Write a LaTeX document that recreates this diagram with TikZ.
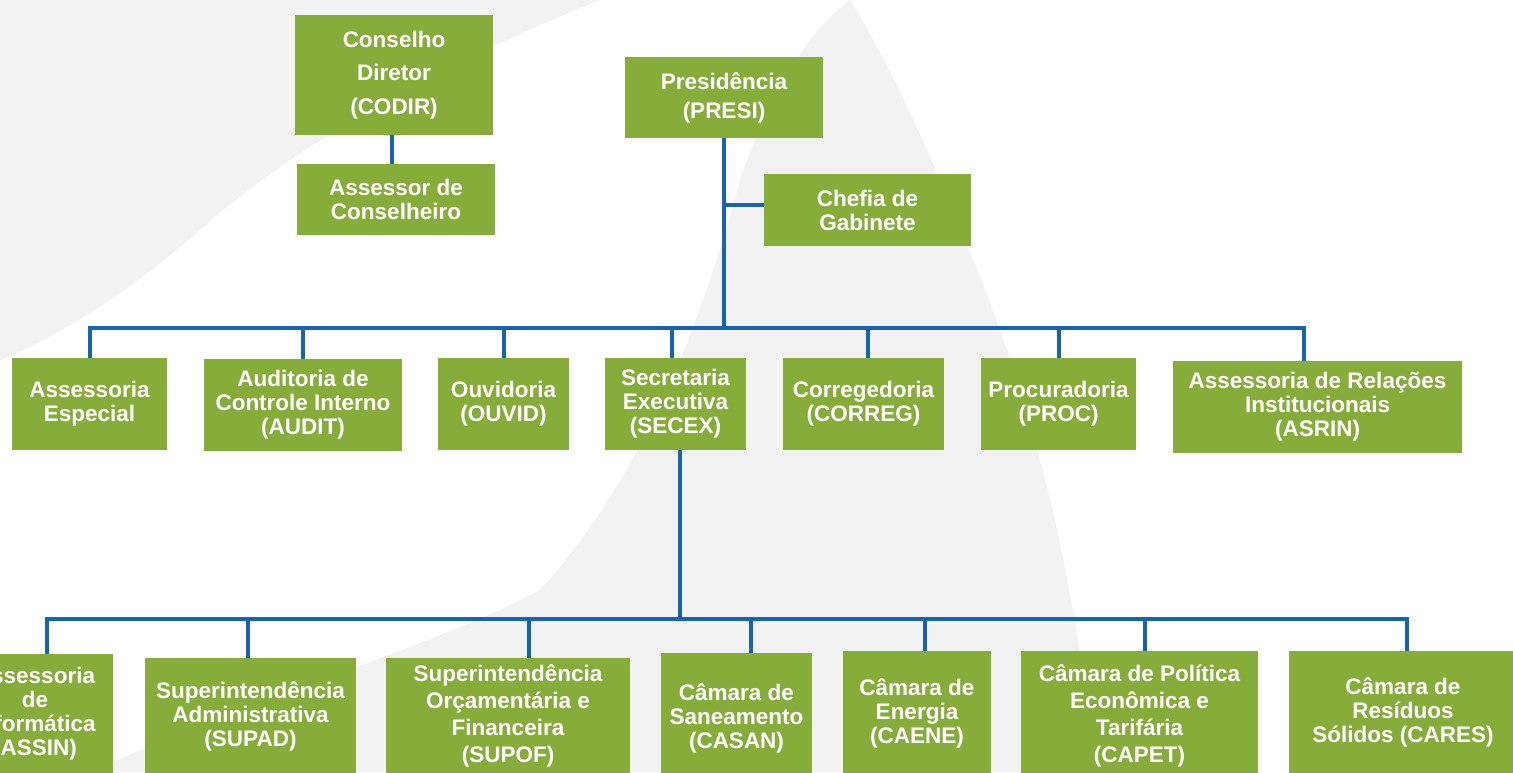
\documentclass[tikz,border=0pt]{standalone}
\usepackage{fontspec}
\setmainfont{Liberation Sans}
\definecolor{boxgreen}{RGB}{134,172,58}
\definecolor{lineblue}{RGB}{24,100,172}
\definecolor{wmgray}{RGB}{242,242,242}
\begin{document}
\begin{tikzpicture}[x=1pt,y=-1pt,
  box/.style={rectangle, fill=boxgreen, text=white, align=center, inner sep=0pt,
    font=\bfseries\fontsize{22.5}{24}\selectfont},
  lsp/.style={font=\bfseries\fontsize{22.5}{#1}\selectfont},
  conn/.style={draw=lineblue, line width=4pt}]
\useasboundingbox (0,0) rectangle (1513,772);
\clip (0,0) rectangle (1513,772);
% background watermark
\fill[white] (0,0) rectangle (1513,772);
\fill[wmgray] (850,0) .. controls (900,80) and (960,220) .. (1000,330)
  .. controls (1050,470) and (1080,620) .. (1095,772)
  -- (90,772) .. controls (250,700) and (450,640) .. (540,590)
  .. controls (640,480) and (700,330) .. (740,180)
  .. controls (770,90) and (810,30) .. (850,0) -- cycle;
\fill[wmgray] (0,0) -- (600,0) .. controls (450,60) and (300,140) .. (200,230)
  .. controls (120,300) and (50,340) .. (0,360) -- cycle;
% top nodes
\node[box, lsp=33.5, minimum width=198pt, minimum height=120pt] (codir) at (394,75) {Conselho\\Diretor\\(CODIR)};
\node[box, minimum width=198pt, minimum height=71pt] (assessor) at (396,199.5) {Assessor de\\Conselheiro};
\node[box, lsp=29, minimum width=198pt, minimum height=81pt] (presi) at (724,97.5) {Presidência\\(PRESI)};
\node[box, minimum width=207pt, minimum height=72pt] (chefia) at (867.5,210) {Chefia de\\Gabinete};
% second row
\node[box, minimum width=155pt, minimum height=92pt] (ae) at (89.5,404) {Assessoria\\Especial};
\node[box, minimum width=198pt, minimum height=92pt] (audit) at (303,405) {Auditoria de\\Controle Interno\\(AUDIT)};
\node[box, minimum width=131pt, minimum height=92pt] (ouvid) at (503.5,404) {Ouvidoria\\(OUVID)};
\node[box, minimum width=141pt, minimum height=92pt] (secex) at (675.5,404) {Secretaria\\Executiva\\(SECEX)};
\node[box, minimum width=161pt, minimum height=92pt] (correg) at (863.5,404) {Corregedoria\\(CORREG)};
\node[box, minimum width=155pt, minimum height=92pt] (proc) at (1058.5,404) {Procuradoria\\(PROC)};
\node[box, minimum width=289pt, minimum height=92pt] (asrin) at (1317.5,407) {Assessoria de Relações\\Institucionais\\(ASRIN)};
% third row
\node[box, minimum width=156pt, minimum height=120pt] (assin) at (35,714) {Assessoria\\de\\Informática\\(ASSIN)};
\node[box, minimum width=211pt, minimum height=116pt] (supad) at (250.5,716) {Superintendência\\Administrativa\\(SUPAD)};
\node[box, lsp=27, minimum width=244pt, minimum height=116pt] (supof) at (508,716) {Superintendência\\Orçamentária e\\Financeira\\(SUPOF)};
\node[box, minimum width=151pt, minimum height=130pt] (casan) at (736.5,718) {Câmara de\\Saneamento\\(CASAN)};
\node[box, minimum width=148pt, minimum height=124pt] (caene) at (917,713) {Câmara de\\Energia\\(CAENE)};
\node[box, lsp=27, minimum width=237pt, minimum height=130pt] (capet) at (1139.5,716) {Câmara de Política\\Econômica e\\Tarifária\\(CAPET)};
\node[box, minimum width=228pt, minimum height=122pt] (cares) at (1403,712) {Câmara de\\Resíduos\\Sólidos (CARES)};
% bus coordinates
\coordinate (busA) at (0,327.5);
\coordinate (busB) at (0,619);
% connectors
\draw[conn] ([xshift=-2pt]codir.south) -- ([xshift=-2pt]codir.south |- assessor.north);
\draw[conn] (presi.south) -- (presi.south |- busA);
\draw[conn] ([yshift=5pt]chefia.west) -- ([yshift=5pt]chefia.west -| presi.south);
\draw[conn] (ae.north) -- (ae.north |- busA) -- ([xshift=-13.5pt]asrin.north |- busA) -- ([xshift=-13.5pt]asrin.north);
\draw[conn] (audit.north) -- (audit.north |- busA);
\draw[conn] (ouvid.north) -- (ouvid.north |- busA);
\draw[conn] ([xshift=-3.5pt]secex.north) -- ([xshift=-3.5pt]secex.north |- busA);
\draw[conn] ([xshift=4.5pt]correg.north) -- ([xshift=4.5pt]correg.north |- busA);
\draw[conn] (proc.north) -- (proc.north |- busA);
\draw[conn] ([xshift=4.5pt]secex.south) -- ([xshift=4.5pt]secex.south |- busB);
\draw[conn] ([xshift=12pt]assin.north) -- ([xshift=12pt]assin.north |- busB) -- ([xshift=4pt]cares.north |- busB) -- ([xshift=4pt]cares.north);
\draw[conn] ([xshift=-2.5pt]supad.north) -- ([xshift=-2.5pt]supad.north |- busB);
\draw[conn] ([xshift=21pt]supof.north) -- ([xshift=21pt]supof.north |- busB);
\draw[conn] ([xshift=14.5pt]casan.north) -- ([xshift=14.5pt]casan.north |- busB);
\draw[conn] ([xshift=8pt]caene.north) -- ([xshift=8pt]caene.north |- busB);
\draw[conn] ([xshift=5.5pt]capet.north) -- ([xshift=5.5pt]capet.north |- busB);
\end{tikzpicture}
\end{document}
